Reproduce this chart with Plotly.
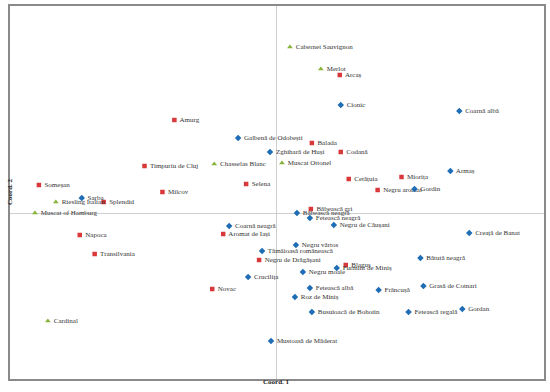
import plotly.graph_objects as go

# Group 1 (red squares)
red_names = ["Amurg", "Timpuriu de Cluj", "Someșan", "Selena", "Milcov", "Arcaș", "Balada",
             "Codană", "Miorița", "Cetățuia", "Negru aromat", "Splendid", "Aromat de Iași",
             "Napoca", "Transilvania", "Negru de Drăgășani", "Novac", "Băbească gri", "Blaguș"]
red_x = [-1.02, -1.32, -2.38, -0.30, -1.14, 0.64, 0.36, 0.65, 1.26, 0.73, 1.02, -1.73, -0.53,
         -1.97, -1.82, -0.17, -0.64, 0.35, 0.70]
red_y = [0.93, 0.47, 0.28, 0.29, 0.21, 1.38, 0.70, 0.61, 0.36, 0.34, 0.23, 0.11, -0.21,
         -0.22, -0.41, -0.47, -0.76, 0.04, -0.52]

# Group 2 (blue diamonds)
blue_names = ["Galbenă de Odobești", "Zghihară de Huși", "Sarba", "Cionic", "Coarnă albă", "Armaș",
              "Gordin", "Coarnă neagră", "Tămâioasă românească", "Crucilița", "Mustoasă de Măderat",
              "Băbească neagră", "Fetească neagră", "Negru de Căușani", "Creață de Banat",
              "Negru vârtos", "Bătută neagră", "Furmint de Miniș", "Negru moale", "Grasă de Cotnari",
              "Fetească albă", "Frâncușă", "Roz de Miniș", "Busuioacă de Bohotin", "Fetească regală",
              "Gordan"]
blue_x = [-0.38, -0.06, -1.95, 0.65, 1.84, 1.75, 1.39, -0.47, -0.14, -0.28, -0.05, 0.21, 0.34,
          0.58, 1.94, 0.20, 1.45, 0.61, 0.27, 1.48, 0.34, 1.03, 0.19, 0.36, 1.33, 1.87]
blue_y = [0.75, 0.61, 0.15, 1.08, 1.02, 0.42, 0.24, -0.13, -0.38, -0.64, -1.28, 0.00, -0.05,
          -0.12, -0.20, -0.32, -0.45, -0.55, -0.59, -0.73, -0.75, -0.77, -0.84, -0.99, -0.99, -0.96]

# Group 3 (green triangles)
green_names = ["Cabernet Sauvignon", "Merlot", "Chasselas Blanc", "Muscat Ottonel",
               "Riesling Italian", "Muscat of Hamburg", "Cardinal"]
green_x = [0.14, 0.45, -0.62, 0.06, -2.21, -2.42, -2.29]
green_y = [1.66, 1.44, 0.49, 0.50, 0.11, 0.00, -1.08]

x_range = [-2.67, 2.69]
y_range = [-1.66, 2.07]

font_txt = dict(family="Liberation Serif", size=7, color="#333333")

fig = go.Figure()
for names, xs, ys, sym, col, sz in [
    (red_names, red_x, red_y, "square", "#d9383a", 4.5),
    (blue_names, blue_x, blue_y, "diamond", "#1f6db5", 5),
    (green_names, green_x, green_y, "triangle-up", "#86b33a", 5),
]:
    fig.add_trace(go.Scatter(
        x=xs, y=ys, mode="markers+text", text=[" " + n for n in names],
        textposition="middle right", textfont=font_txt,
        marker=dict(symbol=sym, color=col, size=sz, line=dict(width=0)),
        showlegend=False, hoverinfo="text"))

axis_common = dict(showgrid=False, showticklabels=False, ticks="", zeroline=True,
                   zerolinecolor="#cfcfcf", zerolinewidth=1, showline=True,
                   linecolor="#8a8a8a", linewidth=1.5, mirror=True)

fig.update_layout(
    width=550, height=392,
    margin=dict(l=10, r=4, t=6, b=13),
    paper_bgcolor="white", plot_bgcolor="white",
    xaxis=dict(range=x_range, **axis_common),
    yaxis=dict(range=y_range, **axis_common),
    annotations=[
        dict(text="<b>Coord. 1</b>", x=0.0, xref="x", y=0, yref="paper", yshift=-9,
             showarrow=False, font=dict(family="Liberation Serif", size=7, color="#222222")),
        dict(text="<b>Coord. 2</b>", x=0, xref="paper", xshift=-6, y=0.21, yref="y",
             textangle=-90, showarrow=False,
             font=dict(family="Liberation Serif", size=7, color="#222222")),
    ],
)

fig.write_html(
    "out.html",
    config={"responsive": False, "displayModeBar": False},
    post_script="document.body.style.margin='0';document.body.style.overflow='hidden';",
)
